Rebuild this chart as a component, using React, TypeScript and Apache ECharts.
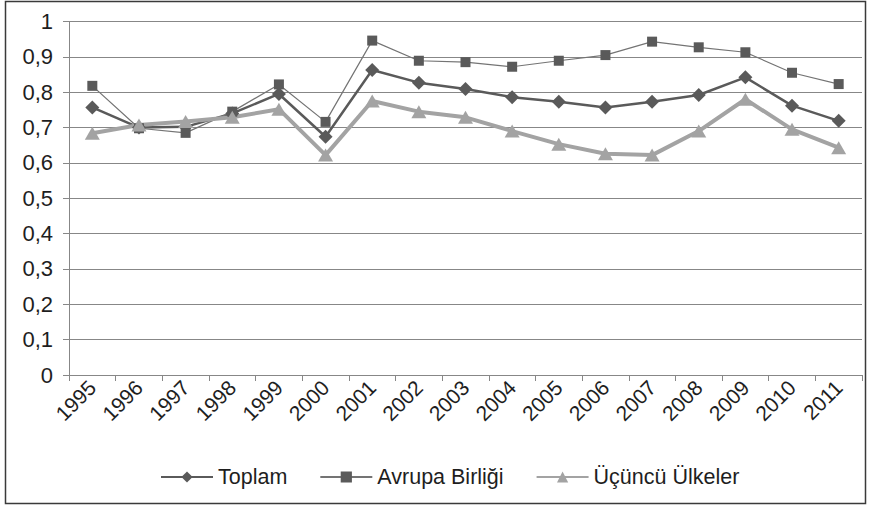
import React, { useEffect, useRef } from "react";
import * as echarts from "echarts";

const years = ["1995","1996","1997","1998","1999","2000","2001","2002","2003","2004","2005","2006","2007","2008","2009","2010","2011"];
const toplam = [0.757,0.700,0.702,0.740,0.795,0.674,0.863,0.827,0.809,0.786,0.773,0.757,0.773,0.792,0.842,0.762,0.719];
const avrupa = [0.818,0.698,0.685,0.745,0.822,0.716,0.946,0.889,0.885,0.872,0.889,0.905,0.943,0.927,0.913,0.855,0.823];
const ucuncu = [0.684,0.707,0.717,0.729,0.752,0.622,0.775,0.745,0.729,0.690,0.653,0.626,0.622,0.690,0.780,0.695,0.643];
const seriesNames = ["Toplam", "Avrupa Birliği", "Üçüncü Ülkeler"];

export default function App() {
  const ref = useRef<HTMLDivElement>(null);
  useEffect(() => {
    document.body.style.margin = "0";
    const chart = echarts.init(ref.current!, null, { renderer: "svg" });
    const font = "'Liberation Sans', Arial, sans-serif";
    const axisGray = "#878787";
    chart.setOption({
      animation: false,
      backgroundColor: "#ffffff",
      textStyle: { fontFamily: font },
      graphic: [
        {
          type: "rect",
          shape: { x: 5.5, y: 1.5, width: 860, height: 502 },
          style: { fill: "none", stroke: "#3a3a3a", lineWidth: 1.5 },
          silent: true,
        },
      ],
      grid: { left: 69, right: 8, top: 21.5, bottom: 131, containLabel: false },
      xAxis: {
        type: "category",
        data: years,
        boundaryGap: true,
        axisLine: { show: true, lineStyle: { color: axisGray, width: 1 } },
        axisTick: { show: true, length: 6, alignWithLabel: false, lineStyle: { color: axisGray } },
        axisLabel: {
          rotate: 45,
          interval: 0,
          margin: 9,
          fontSize: 21,
          color: "#1e1e1e",
          fontFamily: font,
        },
        splitLine: { show: false },
      },
      yAxis: {
        type: "value",
        min: 0,
        max: 1,
        interval: 0.1,
        axisLine: { show: true, lineStyle: { color: axisGray, width: 1 } },
        axisTick: { show: true, length: 6, lineStyle: { color: axisGray } },
        axisLabel: {
          fontSize: 22,
          color: "#1e1e1e",
          margin: 16,
          fontFamily: font,
          formatter: (v: number) => String(Math.round(v * 10) / 10).replace(".", ","),
        },
        splitLine: { show: true, lineStyle: { color: axisGray, width: 1 } },
      },
      legend: {
        left: 155,
        top: 461,
        itemWidth: 52,
        itemHeight: 14,
        itemGap: 32,
        textStyle: { fontSize: 21.5, color: "#1e1e1e", fontFamily: font },
        data: seriesNames,
      },
      series: [
        {
          name: seriesNames[0],
          type: "line",
          data: toplam,
          symbol: "diamond",
          symbolSize: 14,
          lineStyle: { color: "#5a5a5a", width: 2.5 },
          itemStyle: { color: "#5a5a5a" },
        },
        {
          name: seriesNames[1],
          type: "line",
          data: avrupa,
          symbol: "rect",
          symbolSize: 10,
          lineStyle: { color: "#747474", width: 1.2 },
          itemStyle: { color: "#5a5a5a" },
        },
        {
          name: seriesNames[2],
          type: "line",
          data: ucuncu,
          symbol: "triangle",
          symbolSize: [15, 13],
          lineStyle: { color: "#a3a3a3", width: 4 },
          itemStyle: { color: "#a3a3a3" },
        },
      ],
    });
    return () => chart.dispose();
  }, []);
  return <div ref={ref} style={{ width: 870, height: 506 }} />;
}
